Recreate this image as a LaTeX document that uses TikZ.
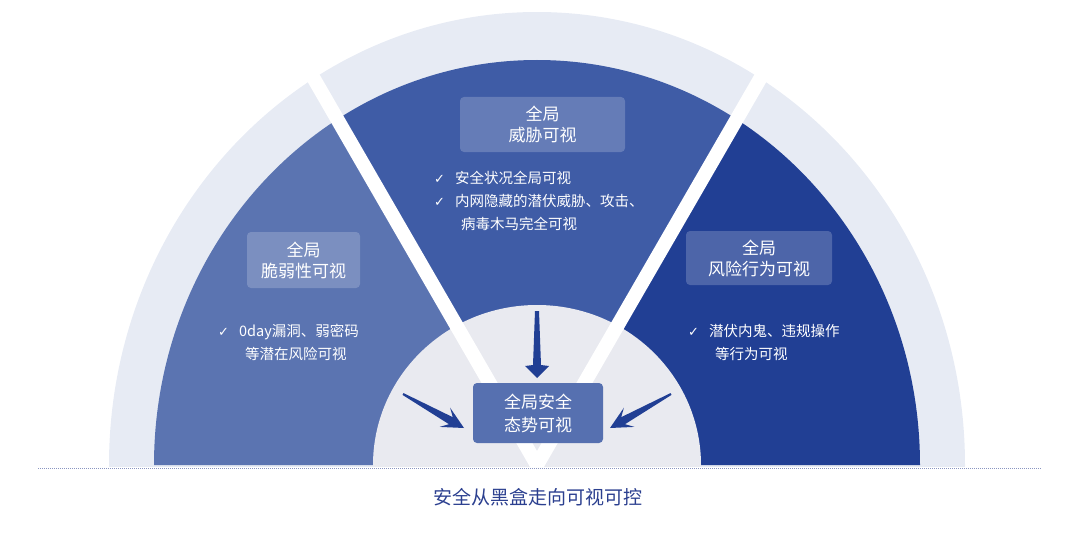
\documentclass[tikz,border=0pt]{standalone}
\usepackage{fontspec}
\setmainfont{Noto Sans CJK SC}
\newfontfamily\symfont{DejaVu Sans}
\usetikzlibrary{positioning}
\definecolor{ringlight}{HTML}{E7EBF4}
\definecolor{coregray}{HTML}{E9EAF0}
\definecolor{secleft}{HTML}{5B74B1}
\definecolor{secmid}{HTML}{3F5CA6}
\definecolor{secright}{HTML}{213F94}
\definecolor{corebox}{HTML}{5670B0}
\definecolor{captionblue}{HTML}{2B3F8F}
\newcommand{\chk}{{\symfont\fontsize{13}{23}\selectfont ✓}}
\tikzset{
	titlebox/.style={fill=white, fill opacity=0.2, text opacity=1, text=white, rounded corners=4pt,
		align=center, font=\fontsize{17}{21}\selectfont, inner sep=0pt},
	bodytext/.style={text=white, align=left, font=\fontsize{14.5}{23}\selectfont, inner sep=0pt},
	dart/.style={fill=secright, draw=none}
}
\begin{document}
\begin{tikzpicture}[x=1pt,y=-1pt]
	\useasboundingbox (0,0) rectangle (1080,535);
	\begin{scope}
	\clip (0,0) rectangle (1080,466);
	% light outer ring
	\fill[ringlight] (537,465) ellipse [x radius=428, y radius=453];
	% the three sectors
	\begin{scope}
		\clip (537,465) -- (187,-141) -- (0,-141) -- (0,465) -- cycle;
		\fill[secleft] (537,465) ellipse [x radius=383, y radius=405];
	\end{scope}
	\begin{scope}
		\clip (537,465) -- (187,-141) -- (887,-141) -- cycle;
		\fill[secmid] (537,465) ellipse [x radius=383, y radius=405];
	\end{scope}
	\begin{scope}
		\clip (537,465) -- (887,-141) -- (1080,-141) -- (1080,465) -- cycle;
		\fill[secright] (537,465) ellipse [x radius=383, y radius=405];
	\end{scope}
	% inner core
	\fill[coregray] (537,465) ellipse [x radius=164, y radius=160];
	% white gaps
	\draw[white, line width=14pt] (187,-141) -- (537,465) -- (887,-141);
	\end{scope}
	% dotted base line
	\draw[densely dotted, color=captionblue!55, line width=1pt] (38,468) -- (1042,468);

	% titles
	\node[titlebox, minimum width=113pt, minimum height=56pt] (vuln) at (303.5,260) {全局\\脆弱性可视};
	\node[titlebox, minimum width=165pt, minimum height=55pt] (threat) at (542.5,124.5) {全局\\威胁可视};
	\node[titlebox, minimum width=146pt, minimum height=54pt] (risk) at (759,258) {全局\\风险行为可视};
	\node[fill=corebox, text=white, rounded corners=4pt, align=center, inner sep=0pt,
		minimum width=130pt, minimum height=60pt, font=\fontsize{17}{23}\selectfont] (core) at (538,413) {全局安全\\态势可视};

	% texts
	\node[bodytext, anchor=north west] (tmid) at (434,171) {\chk\hspace{10pt}安全状况全局可视\\\chk\hspace{10pt}内网隐藏的潜伏威胁、攻击、\\\hspace{27pt}病毒木马完全可视};
	\node[bodytext, anchor=north west] (tleft) at (218,324) {\chk\hspace{10pt}0day漏洞、弱密码\\\hspace{27pt}等潜在风险可视};
	\node[bodytext, anchor=north west] (tright) at (688,324) {\chk\hspace{10pt}潜伏内鬼、违规操作\\\hspace{27pt}等行为可视};

	% arrows into the core
	\fill[dart] (535,311) -- (539,311) -- (541,365) -- (549,366) -- (537,378) -- (525,366) -- (533,365) -- cycle;
	\fill[dart] (402.5,394.9) -- (449.0,424.2) -- (439.5,426.9) -- (464,428) -- (450.1,407.7) -- (452.8,417.2) -- (403.5,393.1) -- cycle;
	\fill[dart] (671.5,394.9) -- (625.0,424.2) -- (634.5,426.9) -- (610,428) -- (623.9,407.7) -- (621.2,417.2) -- (670.5,393.1) -- cycle;

	% caption
	\node[text=captionblue, font=\fontsize{19}{23}\selectfont] (cap) at (538,497) {安全从黑盒走向可视可控};
\end{tikzpicture}
\end{document}
